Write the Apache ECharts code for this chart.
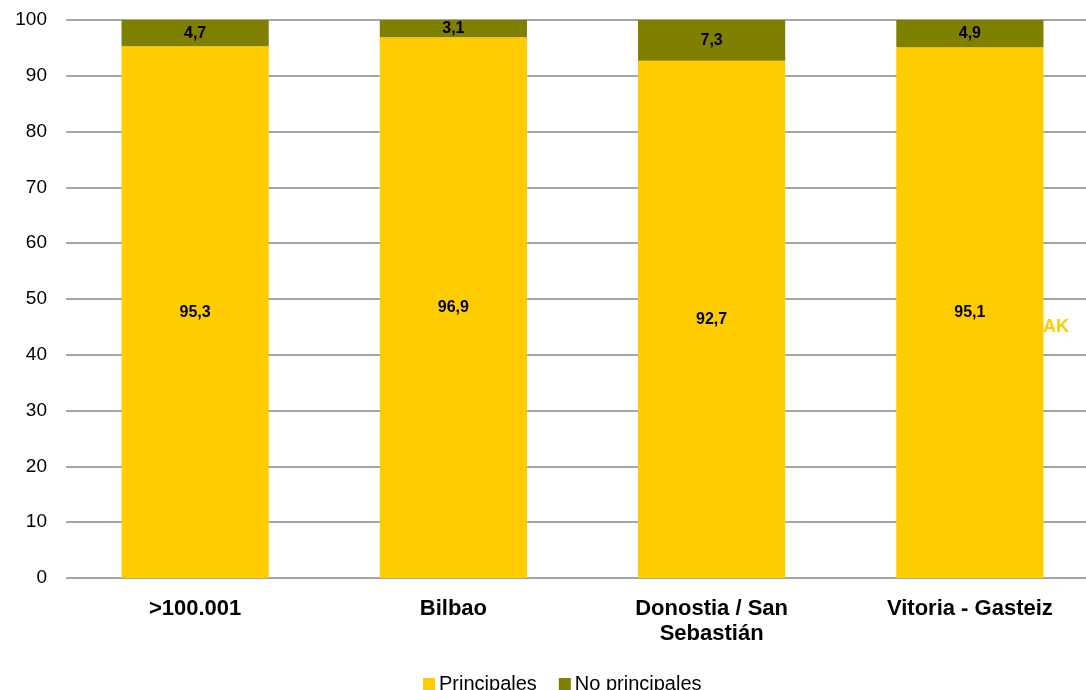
<!DOCTYPE html>
<html>
<head>
<meta charset="utf-8">
<script src="https://cdn.jsdelivr.net/npm/echarts@6/dist/echarts.min.js"></script>
<style>
html,body{margin:0;padding:0;background:#fff;}
#chart{width:1086px;height:690px;}
</style>
</head>
<body>
<div id="chart"></div>
<script>
// Household dwellings by municipality: principal vs non-principal (%)
const categories = ['>100.001', 'Bilbao', 'Donostia / San\nSebastián', 'Vitoria - Gasteiz'];
const principales = [95.3, 96.9, 92.7, 95.1];
const noPrincipales = [4.7, 3.1, 7.3, 4.9];
const yTicks = [0, 10, 20, 30, 40, 50, 60, 70, 80, 90, 100];

const fmt = v => String(v).replace('.', ',');

const chart = echarts.init(document.getElementById('chart'));
chart.setOption({
  animation: false,
  textStyle: { fontFamily: 'Liberation Sans, Arial, sans-serif' },
  grid: { left: 66, width: 1033, top: 20, height: 558, outerBoundsMode: 'none', containLabel: false },
  graphic: [{
    type: 'text', left: 1043, top: 318, z: -1,
    style: { text: 'AK', fill: '#FFCC00', font: 'bold 18px Liberation Sans, Arial, sans-serif' }
  }],
  legend: {
    bottom: -9, left: 418,
    itemWidth: 12, itemHeight: 12, itemGap: 22,
    icon: 'rect',
    textStyle: { fontSize: 20, color: '#000', padding: [0, 0, 0, -1] },
    data: ['Principales', 'No principales']
  },
  xAxis: {
    type: 'category',
    data: categories,
    axisLine: { show: false },
    axisTick: { show: false },
    axisLabel: { fontSize: 22, fontWeight: 'bold', color: '#000', margin: 18, lineHeight: 25, interval: 0 }
  },
  yAxis: {
    type: 'value', min: 0, max: 100, interval: 10,
    axisLine: { show: false },
    axisTick: { show: false },
    axisLabel: { fontSize: 19, color: '#000', margin: 19, formatter: v => yTicks.includes(v) ? String(v) : '' },
    splitLine: { lineStyle: { color: '#A6A6A6', width: 2 } }
  },
  series: [
    {
      name: 'Principales', type: 'bar', stack: 'total', barWidth: '57%',
      itemStyle: { color: '#FFCC00' },
      label: { show: true, position: 'inside', color: '#000', fontWeight: 'bold', fontSize: 16, formatter: p => fmt(p.value) },
      data: principales
    },
    {
      name: 'No principales', type: 'bar', stack: 'total', barWidth: '57%',
      itemStyle: { color: '#808000' },
      label: { show: true, position: 'inside', color: '#000', fontWeight: 'bold', fontSize: 16, formatter: p => fmt(p.value) },
      data: noPrincipales
    }
  ]
});
</script>
</body>
</html>
